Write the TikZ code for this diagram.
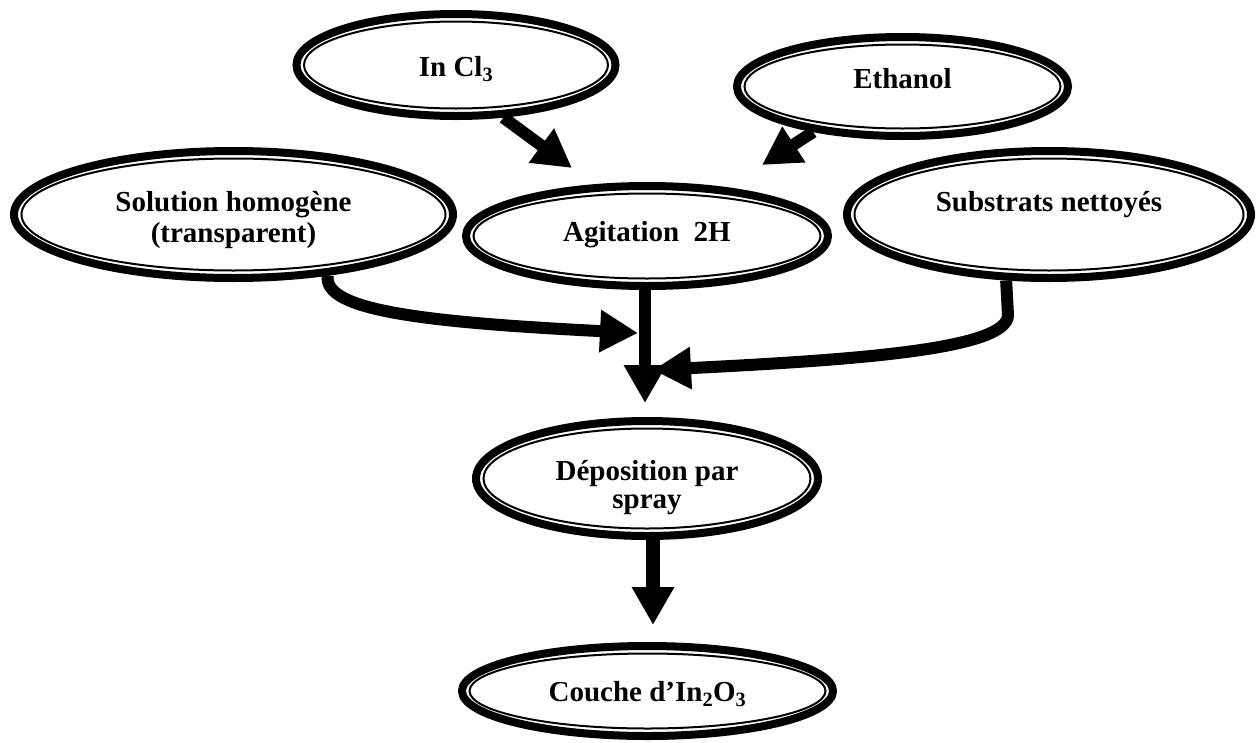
\documentclass[tikz,border=0pt]{standalone}
\usepackage{fontspec}
\setmainfont{Liberation Serif}
\usetikzlibrary{shapes.geometric,arrows.meta,backgrounds}
% place text so that its (first) baseline lies #1 below the node centre
\newcommand\txtbase[2]{\raisebox{-#1}[0pt][0pt]{#2}}
\begin{document}
\begin{tikzpicture}[x=1pt,y=-1pt,
  oval/.style={ellipse, draw, fill=white, line width=8pt, inner sep=0pt, align=center,
    font=\bfseries\fontsize{29}{31}\selectfont},
  innerline/.style={line width=2pt},
  conn/.style={line width=12pt, -{Triangle[length=38pt,width=40pt]}}]
\useasboundingbox (0,0) rectangle (1256,742);

\node[oval, minimum width=319, minimum height=102] (incl) at (456,65) {\txtbase{11.5pt}{In Cl\textsubscript{3}}};
\node[oval, minimum width=331, minimum height=99] (eth) at (902.5,86.5) {\txtbase{1.8pt}{Ethanol}};
\node[oval, minimum width=439, minimum height=127] (sol) at (233.5,214.5)
  {\txtbase{-2.8pt}{\begin{tabular}[t]{@{}c@{}}Solution homogène\\(transparent)\end{tabular}}};
\node[oval, minimum width=362, minimum height=100] (agit) at (647,236) {\txtbase{5.7pt}{Agitation~~2H}};
\node[oval, minimum width=404, minimum height=127] (sub) at (1049,214.5) {\txtbase{-3.5pt}{Substrats nettoyés}};
\node[oval, minimum width=342, minimum height=115] (dep) at (647,478.5)
  {\txtbase{1.5pt}{\fontsize{29}{28}\selectfont\begin{tabular}[t]{@{}c@{}}Déposition par\\spray\end{tabular}}};
\node[oval, minimum width=371, minimum height=90] (cou) at (647.5,691) {\txtbase{10.7pt}{Couche d’In\textsubscript{2}O\textsubscript{3}}};

\draw[innerline] (incl.center) ellipse [x radius=152, y radius=43.5];
\draw[innerline] (eth.center) ellipse [x radius=158, y radius=42];
\draw[innerline] (sol.center) ellipse [x radius=212, y radius=56];
\draw[innerline] (agit.center) ellipse [x radius=173.5, y radius=42.5];
\draw[innerline] (sub.center) ellipse [x radius=194.5, y radius=56];
\draw[innerline] (dep.center) ellipse [x radius=163.5, y radius=50];
\draw[innerline] (cou.center) ellipse [x radius=178, y radius=37.5];

\coordinate (t1) at (572,168);
\coordinate (t2) at (762,165);
\coordinate (t3) at (645,403);
\coordinate (t4) at (638,333);
\coordinate (t5) at (653,370);
\coordinate (t6) at (653,625);

\begin{scope}[on background layer]
\draw[conn] (incl.-48.7) -- (t1);
\draw[conn] (eth.-153.9) -- (t2);
\draw[conn] (agit.south -| t3) -- (t3);
\draw[conn] (sol.-33) .. controls (323,310) and (420,322) .. (t4);
\draw[conn] (sub.-123.4) -- (1008,315) .. controls (1008,350) and (850,360) .. (t5);
\draw[conn, line width=14pt] (dep.south -| t6) -- (t6);
\end{scope}
\end{tikzpicture}
\end{document}
